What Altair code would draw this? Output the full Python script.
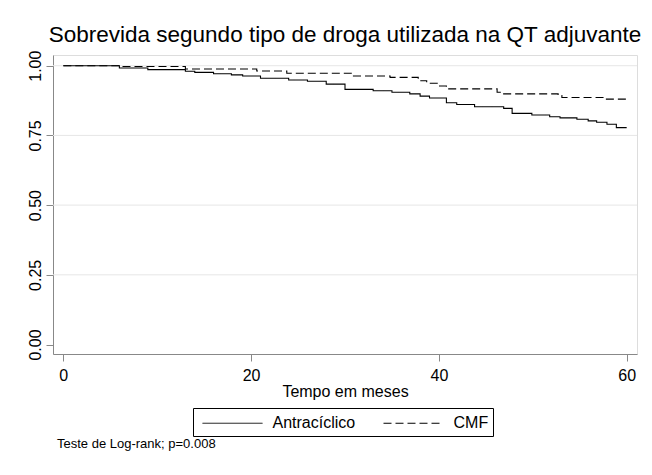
import altair as alt
import pandas as pd

# ---- data ----
groups = ["Antracíclico", "CMF"]

antra_t = [0, 5.97, 9.0, 13.0, 14.0, 16.0, 17.9, 19.1, 21.0, 24.0, 26.0, 28.0, 30.0,
           33.0, 35.0, 36.9, 38.0, 39.0, 40.8, 41.9, 43.8, 46.9, 47.8, 49.9, 51.8,
           52.9, 54.7, 55.9, 56.8, 57.9, 58.9, 60.0]
antra_s = [1.000, 0.992, 0.986, 0.980, 0.976, 0.971, 0.967, 0.963, 0.955, 0.949, 0.944, 0.934, 0.915,
           0.910, 0.905, 0.899, 0.891, 0.884, 0.867, 0.861, 0.853, 0.847, 0.829, 0.823, 0.817,
           0.813, 0.808, 0.802, 0.797, 0.790, 0.778, 0.778]

cmf_t = [0, 6.0, 13.0, 20.6, 23.8, 30.9, 34.8, 37.8, 38.7, 39.9, 40.8, 46.2, 46.9,
         52.7, 53.1, 57.7, 60.0]
cmf_s = [1.000, 0.997, 0.988, 0.981, 0.973, 0.963, 0.958, 0.946, 0.937, 0.927, 0.917, 0.905, 0.899,
         0.893, 0.886, 0.880, 0.880]

grid_y = [0.25, 0.50, 0.75, 1.00]
x_ticks = [0, 20, 40, 60]
y_ticks = [0.00, 0.25, 0.50, 0.75, 1.00]

chart_title = "Sobrevida segundo tipo de droga utilizada na QT adjuvante"
x_title = "Tempo em meses"
note = "Teste de Log-rank; p=0.008"

# ---- tables ----
df = pd.DataFrame({
    "t": antra_t + cmf_t,
    "s": antra_s + cmf_s,
    "g": [groups[0]] * len(antra_t) + [groups[1]] * len(cmf_t),
})
grid_df = pd.DataFrame({"s": grid_y})
note_df = pd.DataFrame({"txt": [note]})

FONT = "Liberation Sans"
W, H = 584, 299

xscale = alt.Scale(domain=[-1.1, 61.1], nice=False, zero=False)
yscale = alt.Scale(domain=[-0.034, 1.0384], nice=False, zero=False)

y_axis = alt.Axis(values=y_ticks, title=None, grid=False, format=".2f",
                  tickSize=7, labelPadding=6, labelFontSize=16,
                  labelAngle=270, labelAlign="center",
                  labelBaseline="alphabetic")

grid = alt.Chart(grid_df).mark_rule(color="#e6e6e6", strokeWidth=1).encode(
    y=alt.Y("s:Q", scale=yscale, axis=y_axis)
)

lines = alt.Chart(df).mark_line(
    interpolate="step-after", color="black", strokeWidth=1.1
).encode(
    x=alt.X("t:Q", scale=xscale,
            axis=alt.Axis(values=x_ticks, title=x_title, grid=False, format="d",
                          tickSize=7, labelPadding=6, labelFontSize=16,
                          titleFontSize=16, titleFontWeight="normal",
                          titleY=42, titleX=W / 2, titleBaseline="alphabetic",
                          titleAlign="center")),
    y=alt.Y("s:Q", scale=yscale, axis=y_axis),
    strokeDash=alt.StrokeDash(
        "g:N",
        scale=alt.Scale(domain=groups, range=[[1, 0], [8, 4]]),
        legend=alt.Legend(
            title=None, orient="none", legendX=140, legendY=353,
            direction="horizontal", columns=2,
            symbolType="M-0.55,0H5.45", symbolSize=400,
            symbolStrokeWidth=1, symbolStrokeColor="black",
            symbolFillColor="transparent",
            labelFont=FONT, labelFontSize=16, labelColor="black",
            labelOffset=54, columnPadding=23, padding=4.5,
            strokeColor="black", fillColor="white", cornerRadius=0,
        ),
    ),
    order=alt.Order("t:Q"),
)

note_layer = alt.Chart(note_df).mark_text(
    align="left", baseline="alphabetic", fontSize=13, font=FONT, color="black"
).encode(
    x=alt.value(4), y=alt.value(393), text="txt:N"
)

chart = alt.layer(grid, lines, note_layer).properties(
    width=W, height=H,
    title=alt.TitleParams(chart_title, fontSize=22.5, font=FONT, fontWeight="normal",
                          color="black", anchor="middle", frame="group",
                          offset=8, dy=22, baseline="alphabetic"),
    autosize=alt.AutoSizeParams(type="none"),
    padding={"left": 45, "top": 47, "right": 7, "bottom": 100},
).configure_view(stroke="transparent", strokeWidth=0).configure_axis(
    domainColor="black", domainWidth=1, tickColor="black", tickWidth=1,
    labelColor="black", labelFont=FONT, titleFont=FONT, titleColor="black",
).configure(background="white")

chart.save("out.html", embed_options={"renderer": "svg", "actions": False})
